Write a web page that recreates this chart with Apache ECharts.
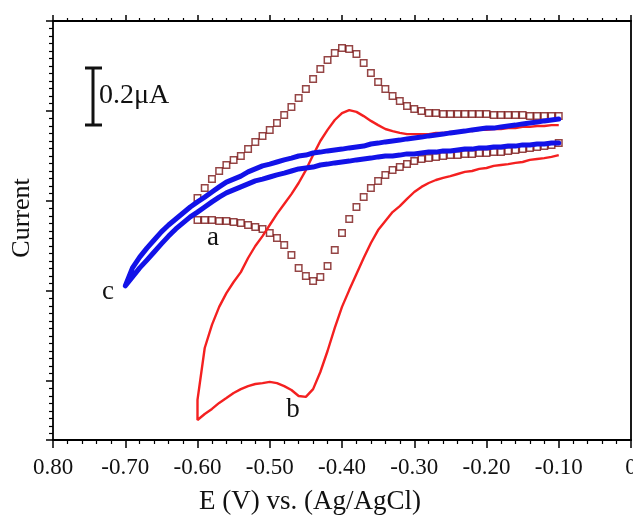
<!DOCTYPE html>
<html>
<head>
<meta charset="utf-8">
<title>CV</title>
<script src="https://cdn.jsdelivr.net/npm/echarts@6/dist/echarts.min.js"></script>
<style>
html, body { margin: 0; padding: 0; background: #fff; }
#main { width: 633px; height: 515px; }
</style>
</head>
<body>
<div id="main"></div>
<script>
// potential sweep, V vs Ag/AgCl
var potAB = [-0.60,-0.59,-0.58,-0.57,-0.56,-0.55,-0.54,-0.53,-0.52,-0.51,
             -0.50,-0.49,-0.48,-0.47,-0.46,-0.45,-0.44,-0.43,-0.42,-0.41,
             -0.40,-0.39,-0.38,-0.37,-0.36,-0.35,-0.34,-0.33,-0.32,-0.31,
             -0.30,-0.29,-0.28,-0.27,-0.26,-0.25,-0.24,-0.23,-0.22,-0.21,
             -0.20,-0.19,-0.18,-0.17,-0.16,-0.15,-0.14,-0.13,-0.12,-0.11,-0.10];
var potC = [-0.70,-0.69,-0.68,-0.67,-0.66,-0.65,-0.64,-0.63,-0.62,-0.61,
            -0.60,-0.59,-0.58,-0.57,-0.56,-0.55,-0.54,-0.53,-0.52,-0.51,
            -0.50,-0.49,-0.48,-0.47,-0.46,-0.45,-0.44,-0.43,-0.42,-0.41,
            -0.40,-0.39,-0.38,-0.37,-0.36,-0.35,-0.34,-0.33,-0.32,-0.31,
            -0.30,-0.29,-0.28,-0.27,-0.26,-0.25,-0.24,-0.23,-0.22,-0.21,
            -0.20,-0.19,-0.18,-0.17,-0.16,-0.15,-0.14,-0.13,-0.12,-0.11,-0.10];

// current (uA, arbitrary offset) - forward: negative -> positive, reverse: positive -> negative
var aForward = [0.910,0.943,0.973,1.000,1.020,1.037,1.050,1.073,1.097,1.117,
                1.137,1.160,1.187,1.213,1.243,1.273,1.307,1.340,1.370,1.393,
                1.410,1.407,1.390,1.360,1.327,1.297,1.273,1.250,1.233,1.217,
                1.207,1.200,1.193,1.193,1.190,1.190,1.190,1.190,1.190,1.190,
                1.190,1.187,1.187,1.187,1.187,1.187,1.183,1.183,1.183,1.183,1.183];
var aReverse = [1.093,1.087,1.083,1.080,1.077,1.073,1.070,1.067,1.063,1.063,
                1.060,1.060,1.057,1.057,1.053,1.053,1.050,1.047,1.043,1.040,
                1.033,1.023,1.013,1.003,0.987,0.967,0.943,0.913,0.880,0.840,
                0.793,0.737,0.683,0.647,0.633,0.650,0.677,0.720,0.753,0.777,
                0.793,0.807,0.813,0.820,0.827,0.830,0.833,0.833,0.837,0.837,0.837];

var bForward = [0.237,0.410,0.487,0.547,0.593,0.630,0.663,0.710,0.750,0.783,
                0.820,0.857,0.890,0.923,0.960,1.003,1.053,1.100,1.137,1.170,
                1.193,1.203,1.197,1.183,1.167,1.153,1.140,1.133,1.127,1.123,
                1.123,1.123,1.123,1.127,1.127,1.130,1.130,1.133,1.133,1.137,
                1.137,1.140,1.140,1.143,1.143,1.147,1.147,1.150,1.150,1.153,1.153];
var bReverse = [1.053,1.047,1.043,1.040,1.037,1.030,1.027,1.023,1.020,1.017,
                1.010,1.007,1.000,0.997,0.990,0.983,0.977,0.970,0.960,0.947,
                0.930,0.907,0.883,0.863,0.833,0.803,0.760,0.710,0.657,0.603,
                0.547,0.477,0.400,0.330,0.273,0.247,0.250,0.270,0.283,0.293,
                0.297,0.293,0.290,0.283,0.273,0.260,0.243,0.227,0.207,0.190,0.170];

var cForward = [0.620,0.677,0.713,0.743,0.770,0.797,0.820,0.840,0.860,0.880,
                0.897,0.913,0.930,0.947,0.963,0.973,0.983,0.997,1.007,1.017,
                1.023,1.030,1.037,1.043,1.050,1.053,1.060,1.063,1.067,1.070,
                1.073,1.077,1.080,1.083,1.090,1.093,1.097,1.100,1.103,1.107,
                1.110,1.113,1.117,1.120,1.123,1.127,1.130,1.133,1.137,1.140,
                1.143,1.143,1.147,1.150,1.153,1.157,1.160,1.163,1.167,1.170,1.173];
var cReverse = [1.093,1.093,1.090,1.090,1.087,1.087,1.083,1.083,1.080,1.080,
                1.077,1.077,1.073,1.073,1.070,1.067,1.067,1.063,1.063,1.060,
                1.057,1.057,1.053,1.050,1.050,1.047,1.043,1.040,1.037,1.033,
                1.030,1.027,1.023,1.020,1.013,1.010,1.007,1.000,0.993,0.987,
                0.980,0.973,0.967,0.957,0.947,0.937,0.927,0.913,0.897,0.880,
                0.863,0.847,0.827,0.807,0.783,0.757,0.730,0.703,0.677,0.647,0.617];

var xTickLabels = ['0.80','-0.70','-0.60','-0.50','-0.40','-0.30','-0.20','-0.10','0'];

function pairs(pot, cur) {
    return pot.map(function (p, i) { return [p, cur[i]]; });
}
function rev(arr) { return arr.slice().reverse(); }

var serif = 'Liberation Serif';
var yMax = 1.5, yMin = 1.5 - 419 / 300;

var chart = echarts.init(document.getElementById('main'));

var option = {
    animation: false,
    backgroundColor: '#fff',
    grid: { left: 53, right: 2, top: 21, bottom: 75, containLabel: false, outerBoundsMode: 'none' },
    xAxis: [
        {
            type: 'value', min: -0.8, max: 0, interval: 0.1,
            axisLine: { onZero: false, lineStyle: { color: '#000', width: 1.8 } },
            axisTick: { length: 8, lineStyle: { color: '#000', width: 1.5 } },
            minorTick: { show: true, splitNumber: 5, length: 4, lineStyle: { color: '#000', width: 1.2 } },
            splitLine: { show: false },
            axisLabel: {
                margin: 16, fontSize: 23, fontFamily: serif, color: '#111',
                showMinLabel: true, showMaxLabel: true, hideOverlap: false,
                formatter: function (v) { return xTickLabels[Math.round((v + 0.8) * 10)]; }
            }
        },
        {
            type: 'value', position: 'top', min: -0.8, max: 0, interval: 0.1,
            axisLine: { show: true, onZero: false, lineStyle: { color: '#000', width: 1.8 } },
            axisTick: { show: true, length: 6, lineStyle: { color: '#000', width: 1.5 } },
            minorTick: { show: true, splitNumber: 5, length: 3, lineStyle: { color: '#000', width: 1.2 } },
            splitLine: { show: false },
            axisLabel: { show: false }
        }
    ],
    yAxis: [
        {
            type: 'value', position: 'left', min: yMin, max: yMax,
            axisLine: { show: true, onZero: false, lineStyle: { color: '#000', width: 1.8 } },
            axisTick: { show: true, length: 7, lineStyle: { color: '#000', width: 1.5 } },
            minorTick: { show: true, splitNumber: 12, length: 4, lineStyle: { color: '#000', width: 1.2 } },
            splitLine: { show: false },
            axisLabel: { show: false }
        },
        {
            type: 'value', position: 'right', min: yMin, max: yMax,
            axisLine: { show: true, onZero: false, lineStyle: { color: '#000', width: 1.8 } },
            axisTick: { show: false },
            splitLine: { show: false },
            axisLabel: { show: false }
        }
    ],
    graphic: [
        { type: 'text', x: 310, y: 502, style: { text: 'E (V) vs. (Ag/AgCl)', font: '27px "Liberation Serif"', fill: '#111', textAlign: 'center', textVerticalAlign: 'middle' } },
        { type: 'text', x: 22, y: 218, rotation: Math.PI / 2, style: { text: 'Current', font: '26px "Liberation Serif"', fill: '#111', textAlign: 'center', textVerticalAlign: 'middle' } },
        { type: 'line', shape: { x1: 93, y1: 68, x2: 93, y2: 125 }, style: { stroke: '#111', lineWidth: 3 } },
        { type: 'line', shape: { x1: 85, y1: 68, x2: 102, y2: 68 }, style: { stroke: '#111', lineWidth: 3 } },
        { type: 'line', shape: { x1: 85, y1: 125, x2: 102, y2: 125 }, style: { stroke: '#111', lineWidth: 3 } },
        { type: 'text', x: 99, y: 96, style: { text: '0.2\u03bcA', font: '28px "Liberation Serif"', fill: '#111', textVerticalAlign: 'middle' } },
        { type: 'text', x: 213, y: 238, style: { text: 'a', font: '27px "Liberation Serif"', fill: '#111', textAlign: 'center', textVerticalAlign: 'middle' } },
        { type: 'text', x: 293, y: 410, style: { text: 'b', font: '27px "Liberation Serif"', fill: '#111', textAlign: 'center', textVerticalAlign: 'middle' } },
        { type: 'text', x: 108, y: 292, style: { text: 'c', font: '27px "Liberation Serif"', fill: '#111', textAlign: 'center', textVerticalAlign: 'middle' } }
    ],
    series: [
        {
            name: 'a', type: 'scatter', symbol: 'rect', symbolSize: 6.5,
            itemStyle: { color: 'rgba(0,0,0,0)', borderColor: '#7a1616', borderWidth: 1.5 },
            data: pairs(potAB, aForward).concat(pairs(rev(potAB), aReverse))
        },
        {
            name: 'b', type: 'line', showSymbol: false, smooth: false,
            lineStyle: { color: '#f42020', width: 2.4 },
            data: pairs(rev(potAB), bReverse).concat(pairs(potAB, bForward))
        },
        {
            name: 'c', type: 'line', showSymbol: false,
            lineStyle: { color: '#1212e8', width: 5, cap: 'round', join: 'round' },
            data: pairs(rev(potC), cReverse).concat(pairs(potC, cForward))
        }
    ]
};

chart.setOption(option);
</script>
</body>
</html>
